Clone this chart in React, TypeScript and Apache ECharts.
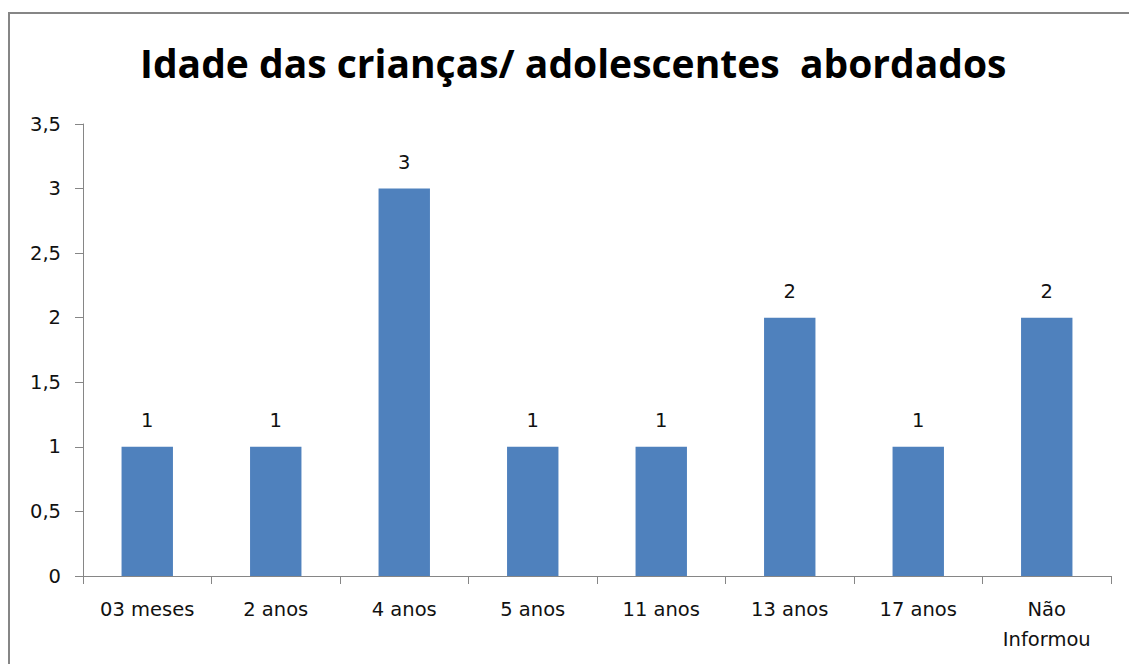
import React, { useEffect, useRef } from "react";
import * as echarts from "echarts";

const categories = ["03 meses", "2 anos", "4 anos", "5 anos", "11 anos", "13 anos", "17 anos", "Não\nInformou"];
const values = [1, 1, 3, 1, 1, 2, 1, 2];
const yTicks = { min: 0, max: 3.5, interval: 0.5 };
const title = "Idade das crianças/ adolescentes  abordados";

export default function App() {
  const ref = useRef<HTMLDivElement>(null);
  useEffect(() => {
    if (!ref.current) return;
    const chart = echarts.init(ref.current, null, { renderer: "svg" });
    const tfont = "Open Sans, Liberation Sans, sans-serif";
    const font = "DejaVu Sans, sans-serif";
    chart.setOption({
      animation: false,
      backgroundColor: "#ffffff",
      title: {
        text: title,
        left: 140,
        top: 43,
        padding: 0,
        textStyle: { fontFamily: tfont, fontWeight: "bold", fontSize: 39, color: "#000" },
      },
      graphic: [
        {
          type: "rect",
          shape: { x: 9, y: 13, width: 1300, height: 800 },
          style: { fill: "none", stroke: "#868686", lineWidth: 2 },
          silent: true,
        },
      ],
      grid: { left: 83, right: 18, top: 124, bottom: 88 },
      xAxis: {
        type: "category",
        data: categories,
        axisLine: { lineStyle: { color: "#868686", width: 1 } },
        axisTick: { show: true, length: 8, lineStyle: { color: "#868686" } },
        axisLabel: { fontFamily: font, fontSize: 19.5, color: "#111", margin: 18, lineHeight: 30 },
      },
      yAxis: {
        type: "value",
        min: yTicks.min,
        max: yTicks.max,
        interval: yTicks.interval,
        axisLine: { show: true, lineStyle: { color: "#868686", width: 1 } },
        axisTick: { show: true, length: 8, lineStyle: { color: "#868686" } },
        splitLine: { show: false },
        axisLabel: {
          fontFamily: font,
          fontSize: 19.5,
          color: "#111",
          margin: 22,
          formatter: (v: number) => String(v).replace(".", ","),
        },
      },
      series: [
        {
          type: "bar",
          data: values,
          barWidth: "40%",
          itemStyle: { color: "#4F81BD" },
          label: { show: true, position: "top", distance: 16, fontFamily: font, fontSize: 19.5, color: "#111" },
        },
      ],
    });
    return () => chart.dispose();
  }, []);
  return <div ref={ref} style={{ position: "fixed", left: 0, top: 0, width: 1129, height: 664 }} />;
}
